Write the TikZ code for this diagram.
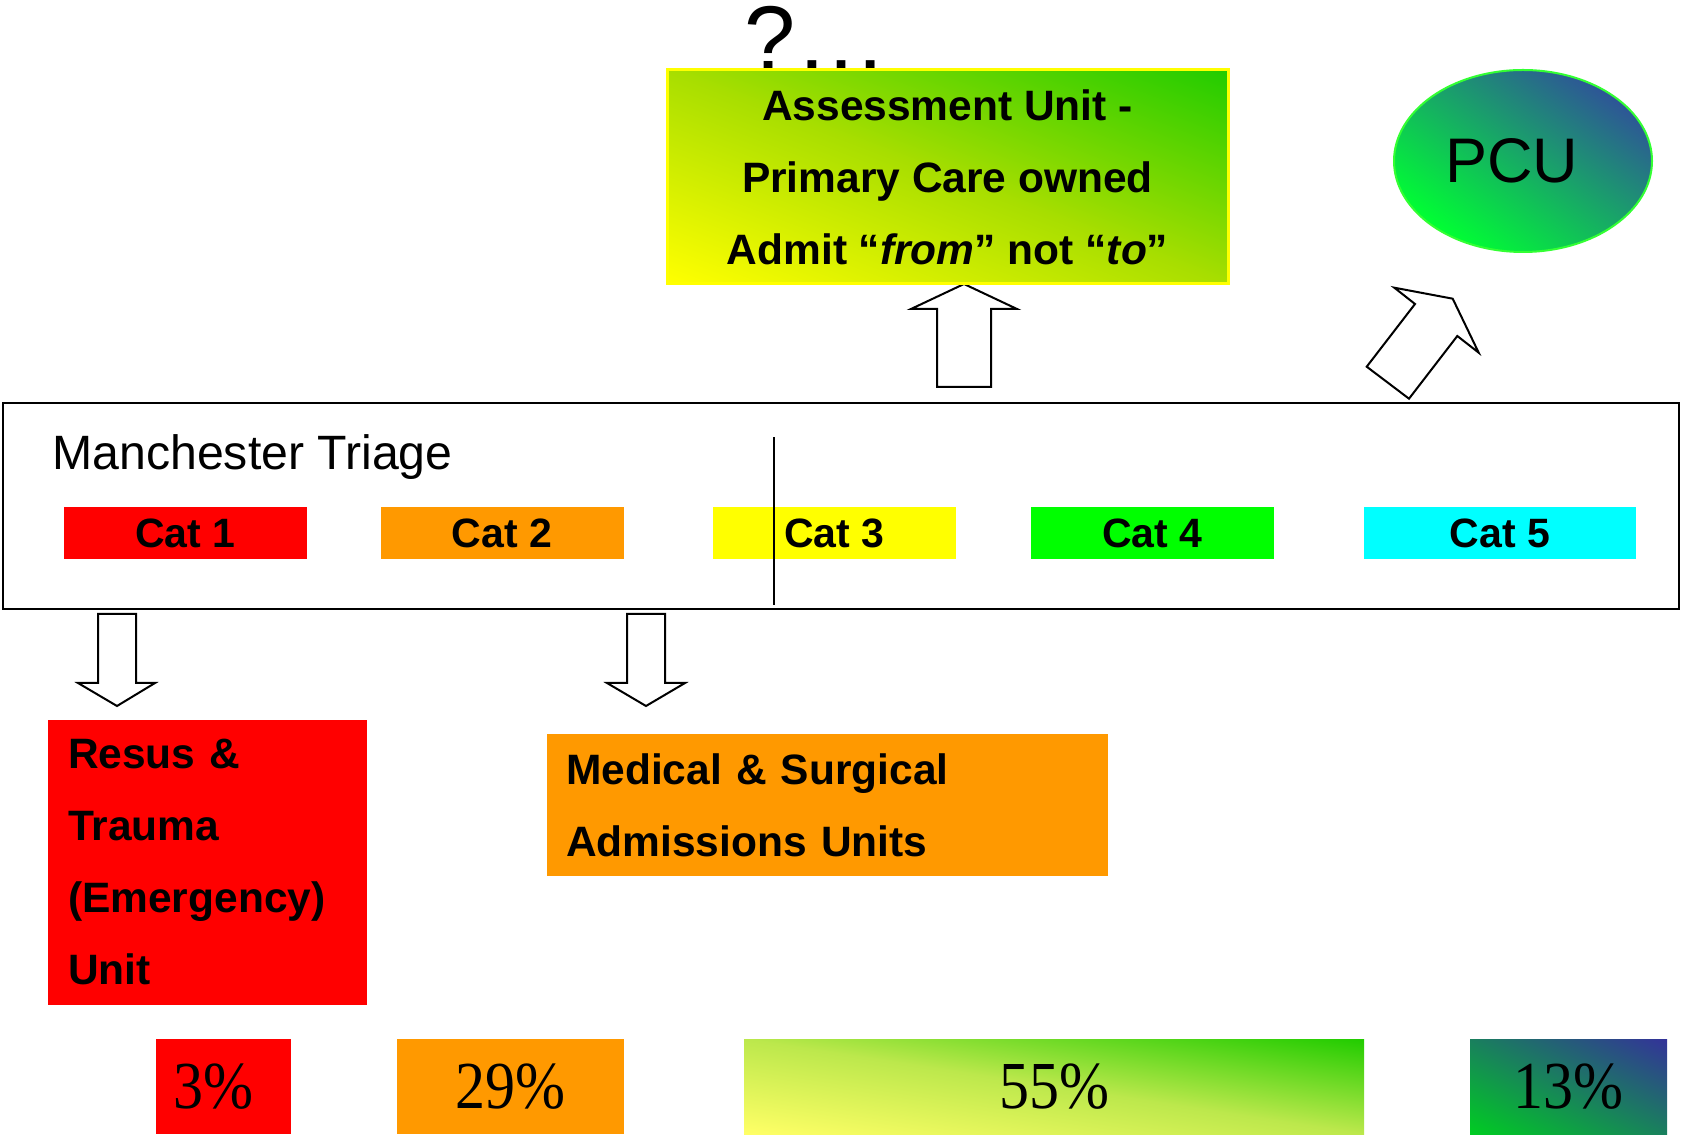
\documentclass[tikz,border=0pt]{standalone}
\usepackage{graphicx}
\usepackage{fontspec}
\setmainfont{Liberation Sans}
\newfontfamily\timesfont{Liberation Serif}
\usetikzlibrary{shapes.geometric}

\definecolor{catred}{HTML}{FF0000}
\definecolor{catorange}{HTML}{FF9900}
\definecolor{catyellow}{HTML}{FFFF00}
\definecolor{catgreen}{HTML}{00FF00}
\definecolor{catcyan}{HTML}{00FFFF}
\definecolor{leafgreen}{HTML}{22CC00}
\definecolor{limegreen}{HTML}{A8DE00}
\definecolor{paleyellow}{HTML}{FFFF66}
\definecolor{palelime}{HTML}{BCE84C}
\definecolor{deepgreen}{HTML}{00CC22}
\definecolor{slateblue}{HTML}{333399}
\definecolor{brightgreen}{HTML}{00FF33}
\definecolor{pcublue}{HTML}{2E5597}
\definecolor{rimgreen}{HTML}{33FF33}

% corner-to-corner gradient, stretched with the box
\newcommand{\diagfill}[5]{%
  \begin{scope}[transform canvas={shift={(#1,#2)},xscale=#3,yscale=#4}]
    \clip (0,0) rectangle (1,1);
    \shade[#5,shading angle=-45] (-0.207,-0.207) rectangle (1.207,1.207);
  \end{scope}}
\newcommand{\diagoval}[5]{%
  \begin{scope}[transform canvas={shift={(#1,#2)},xscale=#3,yscale=#4}]
    \shade[#5,shading angle=-45] (0.5,0.5) circle (0.5);
  \end{scope}}

\begin{document}
\begin{tikzpicture}[x=0.5pt,y=0.5pt,
  every node/.style={inner sep=0pt,outer sep=0pt},
  fat/.style={draw=black,fill=white,line width=1pt,line join=miter},
  body/.style={font=\fontsize{21.25}{36}\selectfont\bfseries},
  cat/.style={minimum width=121.5pt,minimum height=26pt,font=\fontsize{20.5}{24}\selectfont\bfseries},
  pct/.style={minimum height=47.5pt,font=\timesfont\fontsize{30}{32}\selectfont}]
  \useasboundingbox (0,0) rectangle (1681,1136);

  \node[anchor=base west,font=\fontsize{46}{50}\selectfont] (Q) at (744,1065) {?…};

  % arrows out of triage
  \draw[fat] (937,749) -- (937,827) -- (911,827) -- (964,852) -- (1017,827) -- (991,827) -- (991,749) -- cycle;
  \draw[fat] (1366.7,769.3) -- (1415,832) -- (1394.3,848.3) -- (1452.7,837.3) -- (1478.7,783.3) -- (1457.3,800) -- (1409,737.3) -- cycle;
  \draw[fat] (98,522) -- (98,453) -- (78,453) -- (117,430) -- (155,453) -- (136,453) -- (136,522) -- cycle;
  \draw[fat] (627,522) -- (627,453) -- (607,453) -- (646,430) -- (685,453) -- (665,453) -- (665,522) -- cycle;

  \diagfill{667}{852}{561}{214}{bottom color=catyellow,top color=leafgreen,middle color=limegreen}
  \node[draw=catyellow,line width=1.5pt,body,align=center,minimum width=280.5pt,minimum height=107pt] (AU) at (947.5,959)
        {Assessment Unit -\\Primary Care owned\\Admit “\textit{from}” not “\textit{to}”};
  \diagoval{1394}{884}{258}{182}{bottom color=brightgreen,top color=pcublue}
  \node[ellipse,draw=rimgreen,line width=1pt,minimum width=129pt,minimum height=91pt,font=\fontsize{31.5}{36}\selectfont]
        (PCU) at (1523,975) {PCU\kern11.5pt};

  % triage band
  \node[draw,line width=1pt,minimum width=838pt,minimum height=103pt] (MT) at (841,630) {};
  \node[anchor=base west,font=\fontsize{24.1}{28}\selectfont] (MTL) at (52.5,666) {Manchester Triage};
  \node[cat,fill=catred] (C1) at (185.5,603) {Cat 1};
  \node[cat,fill=catorange] (C2) at (502,603) {Cat 2};
  \node[cat,fill=catyellow] (C3) at (834.5,603) {Cat 3};
  \node[cat,fill=catgreen] (C4) at (1152.5,603) {Cat 4};
  \node[cat,fill=catcyan,minimum width=136pt] (C5) at (1500,603) {Cat 5};
  \draw[line width=1pt] (774,531) -- (774,699);

  \node[fill=catred,body,align=left,text width=139.5pt,inner xsep=10pt,minimum height=142.5pt] (RT) at (207.5,273.5)
        {Resus \&\\Trauma\\(Emergency)\\Unit};
  \node[fill=catorange,body,align=left,text width=261.25pt,inner xsep=9.5pt,minimum height=71pt] (MS) at (827.25,331)
        {Medical \& Surgical\\Admissions Units};

  % shares
  \node[pct,fill=catred,minimum width=67.5pt] (P1) at (223,49.5) {\scalebox{1}[1.12]{3\%}\kern10pt};
  \node[pct,fill=catorange,minimum width=113.65pt] (P2) at (510.35,49.5) {\scalebox{1}[1.12]{29\%}};
  \diagfill{744}{2}{620}{95}{bottom color=paleyellow,top color=leafgreen,middle color=palelime}
  \node[pct,minimum width=310pt] (P3) at (1054,49.5) {\scalebox{1}[1.12]{55\%}};
  \diagfill{1470}{2}{197}{95}{bottom color=deepgreen,top color=slateblue}
  \node[pct,minimum width=98.5pt] (P4) at (1568.5,49.5) {\scalebox{1}[1.12]{13\%}};
\end{tikzpicture}
\end{document}
